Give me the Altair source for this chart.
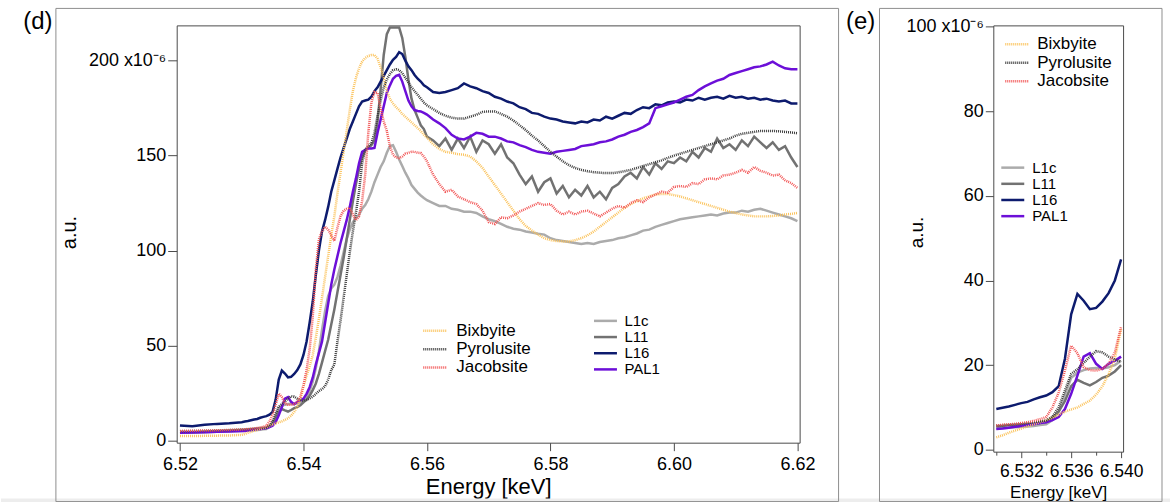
import altair as alt
import pandas as pd

# ---------------- energy grid (keV) ----------------
E_PRE = [6.520, 6.522, 6.524, 6.526, 6.528]
E_EDGE = [round(6.530 + 0.0005 * i, 4) for i in range(61)]   # 6.5300 .. 6.5600
E_POST = [round(6.561 + 0.001 * i, 3) for i in range(60)]    # 6.561 .. 6.620
ENERGY = E_PRE + E_EDGE + E_POST

# ---------------- sample spectra (x1e-6 a.u.) ----------------
L1C = [
    4.2, 4.0, 4.3, 4.6, 4.8,
    5.0, 5.1, 5.2, 5.3, 5.4, 5.5, 5.6, 5.8, 6.0, 7.0,
    9.0, 13.0, 17.0, 18.2, 18.8, 19.2, 19.3, 19.2, 19.5, 20.0,
    21.0, 23.0, 26.0, 31.0, 38.0, 47.0, 58.0, 68.0, 76.0, 80.0,
    82.0, 86.0, 92.0, 99.0, 106.0, 111.0, 115.0, 117.0, 119.0, 122.0,
    124.0, 127.0, 131.0, 136.0, 140.0, 144.0, 147.0, 151.5, 155.0, 155.5,
    152.0, 148.0, 144.5, 141.0, 138.0, 134.5, 132.5, 130.5, 129.0, 127.7,
    126.5,
    125.0, 123.5, 123.5, 122.0, 121.5, 120.5, 120.5, 119.8, 118.0, 116.5,
    115.5, 114.0, 112.5, 111.5, 111.0, 110.0, 109.5, 108.8, 108.4, 106.5,
    105.5, 105.0, 104.5, 104.0, 103.5, 104.0, 103.5, 104.5, 105.0, 105.5,
    106.5, 107.0, 108.0, 109.0, 110.5, 111.0, 112.5, 113.5, 114.5, 115.5,
    116.5, 117.0, 117.5, 118.0, 118.5, 119.0, 118.5, 119.5, 120.0, 120.0,
    121.0, 120.5, 121.5, 122.0, 121.0, 120.0, 119.0, 118.0, 117.0, 115.5,
]
L11 = [
    4.5, 4.4, 4.7, 4.9, 5.2,
    5.5, 5.6, 5.8, 5.9, 6.0, 6.1, 6.1, 6.3, 6.5, 7.5,
    9.0, 11.5, 15.0, 16.5, 15.8, 15.2, 16.0, 17.0, 17.5, 18.5,
    20.0, 21.5, 23.5, 26.5, 30.0, 35.0, 41.0, 47.0, 53.0, 61.0,
    69.0, 78.0, 87.0, 96.0, 106.0, 116.0, 126.0, 135.0, 143.0, 149.0,
    153.0, 154.0, 155.5, 158.0, 168.0, 185.0, 203.0, 214.0, 217.5, 217.5,
    217.5, 217.5, 212.0, 202.0, 190.0, 180.0, 174.0, 170.0, 166.0, 164.0,
    160.0,
    158.0, 155.0, 159.0, 153.0, 159.0, 154.0, 160.0, 152.0, 158.0, 156.0,
    151.0, 156.0, 149.0, 146.0, 140.0, 135.0, 139.0, 131.0, 136.0, 138.0,
    130.0, 134.0, 128.0, 132.0, 129.0, 134.0, 128.0, 131.0, 127.0, 133.0,
    135.0, 139.0, 141.0, 138.0, 144.0, 140.0, 146.0, 143.0, 147.0, 146.0,
    149.0, 147.0, 152.0, 149.0, 154.0, 152.0, 159.0, 154.0, 156.0, 153.0,
    158.0, 155.0, 160.0, 157.0, 154.0, 157.0, 153.0, 155.0, 149.0, 144.0,
]
L16 = [
    7.9, 7.4, 8.2, 8.7, 9.0,
    9.6, 9.9, 10.2, 10.6, 11.0, 11.3, 11.9, 12.4, 12.8, 13.6,
    15.0, 21.5, 32.0, 36.8, 35.2, 33.2, 33.5, 35.0, 37.0, 40.0,
    45.0, 52.0, 62.0, 73.0, 87.0, 100.0, 110.0, 116.0, 123.0, 131.0,
    137.0, 143.0, 149.0, 154.0, 159.0, 164.0, 168.0, 172.0, 176.0, 178.5,
    179.0, 179.5, 181.0, 184.0, 186.0, 189.0, 192.0, 195.0, 198.0, 200.5,
    202.0, 204.5, 203.5, 200.0, 197.0, 195.0, 192.5, 190.5, 189.0, 187.0,
    186.0,
    183.5, 183.0, 183.5, 184.5, 185.5, 188.0, 186.5, 185.5, 184.0, 183.0,
    181.0, 180.0, 178.5, 177.5, 175.5, 174.5, 172.5, 172.0, 170.5, 169.5,
    169.0, 168.0, 167.5, 167.0, 168.0, 167.5, 169.0, 168.5, 170.5, 169.5,
    171.0, 172.5, 172.0, 174.0, 175.5, 175.0, 177.0, 176.5, 178.0, 178.5,
    178.0, 179.5, 179.0, 180.5, 179.5, 180.5, 181.0, 180.0, 181.5, 180.5,
    181.0, 180.0, 180.5, 179.5, 180.0, 179.0, 178.5, 179.0, 177.5, 177.5,
]
PAL1 = [
    4.0, 4.2, 4.3, 4.5, 4.7,
    4.9, 5.0, 5.2, 5.4, 5.6, 5.8, 6.0, 6.3, 6.5, 7.0,
    7.7, 9.6, 13.2, 17.5, 22.0, 22.8, 20.3, 19.1, 20.3, 21.0,
    22.0, 24.5, 28.0, 33.0, 40.0, 46.0, 52.0, 62.0, 72.0, 82.0,
    90.0, 97.0, 104.0, 110.0, 116.0, 123.0, 131.0, 138.0, 146.0, 152.0,
    153.0, 153.7, 153.7, 154.0, 162.0, 169.0, 176.0, 183.0, 187.0, 190.5,
    192.0, 192.6, 189.0, 184.0, 179.0, 176.0, 174.0, 173.5, 173.3, 172.5,
    171.6,
    169.0, 167.0, 164.5, 161.0, 159.0, 158.5, 160.0, 162.0, 161.5, 160.0,
    160.0, 159.0, 157.5, 157.0, 155.5, 154.5, 153.0, 152.0, 151.5, 151.0,
    152.0, 152.5, 153.0, 153.5, 155.0, 155.5, 156.0, 157.0, 157.5, 158.5,
    160.0, 161.0, 162.5, 163.5, 165.0, 167.0, 175.0, 176.0, 177.0, 178.0,
    179.5, 181.0, 182.0, 184.5, 186.5, 188.0, 189.5, 190.5, 192.5, 193.5,
    194.5, 195.5, 196.5, 197.0, 198.0, 199.5, 197.5, 196.0, 195.5, 195.5,
]

# ---------------- reference spectra ----------------
BIXBYITE = [
    2.3, 2.3, 2.4, 2.5, 2.6,
    2.9, 3.4, 4.0, 4.5, 5.0, 5.5, 6.0, 6.5, 6.9, 7.6,
    8.3, 9.0, 9.5, 10.0, 10.8, 11.6, 13.0, 15.0, 17.8, 21.5,
    28.5, 34.0, 39.0, 45.0, 54.0, 64.0, 75.0, 86.0, 97.0, 108.0,
    118.0, 130.0, 141.0, 152.0, 163.0, 174.0, 184.0, 191.0, 196.0, 199.5,
    201.5, 202.5, 203.0, 203.0, 201.0, 196.5, 191.0, 184.0, 180.0, 177.5,
    175.5, 174.0, 172.0, 170.5, 169.0, 167.5, 166.0, 164.5, 163.0, 161.0,
    159.5,
    156.0, 153.5, 152.0, 151.5, 150.8, 150.5, 149.5, 147.0, 143.5, 139.0,
    134.5, 130.0, 125.5, 121.0, 116.5, 113.0, 110.5, 108.4, 106.5, 105.5,
    105.0, 104.8, 104.8, 105.5, 106.5, 108.0, 110.0, 112.5, 115.0, 117.5,
    120.0, 122.5, 124.5, 126.0, 127.5, 128.5, 129.5, 129.8, 129.8, 129.2,
    128.5, 127.5, 126.5, 125.5, 124.5, 123.5, 122.5, 121.5, 120.5, 119.8,
    119.0, 118.5, 118.0, 118.0, 118.0, 118.2, 118.5, 119.0, 119.3, 119.8,
]
PYROLUSITE = [
    4.8, 4.9, 5.0, 5.2, 5.4,
    5.7, 5.8, 5.9, 6.0, 6.1, 6.3, 6.5, 6.7, 6.9, 7.8,
    10.0, 14.0, 17.9, 19.0, 20.5, 22.0, 23.3, 23.0, 22.0, 21.3,
    20.8, 21.3, 22.0, 23.0, 24.5, 26.0, 27.0, 28.5, 32.0, 37.0,
    40.0, 52.0, 63.0, 75.0, 87.0, 99.0, 110.0, 120.0, 131.0, 146.0,
    153.0, 155.0, 156.5, 162.0, 171.0, 179.0, 186.0, 190.0, 193.0, 195.0,
    195.5, 195.0, 193.5, 191.0, 188.5, 186.0, 184.0, 182.0, 180.0, 178.0,
    176.5,
    174.5, 172.5, 171.0, 170.0, 169.5, 169.5, 170.5, 171.5, 173.0, 173.3,
    173.3, 172.0, 170.5, 168.5, 166.0, 163.5, 160.5, 158.0, 155.0, 152.0,
    149.5, 147.0, 145.0, 143.5, 142.5, 141.8, 141.3, 141.0, 140.8, 140.8,
    141.2, 141.8, 142.5, 143.5, 144.5, 145.5, 146.5, 147.5, 148.8, 150.0,
    151.0, 152.0, 153.0, 154.0, 155.0, 156.0, 157.0, 158.0, 159.0, 160.5,
    161.5, 162.0, 162.5, 163.0, 163.0, 163.0, 162.8, 162.5, 162.2, 161.8,
]
JACOBSITE = [
    5.0, 5.1, 5.2, 5.3, 5.5,
    5.7, 5.9, 6.0, 6.1, 6.3, 6.5, 6.8, 7.2, 7.7, 10.0,
    13.5, 18.7, 24.6, 22.8, 19.5, 18.8, 18.7, 19.1, 20.3, 23.0,
    29.0, 37.0, 48.0, 65.0, 90.0, 106.0, 110.0, 112.5, 111.0, 108.0,
    105.0, 112.0, 118.0, 121.0, 122.0, 122.5, 119.0, 116.0, 118.0, 126.0,
    140.0, 162.0, 178.0, 183.5, 183.0, 175.0, 168.0, 163.0, 155.0, 150.5,
    149.0, 148.7, 149.5, 151.0, 151.5, 152.0, 152.0, 151.5, 151.4, 149.5,
    147.0,
    140.0, 135.0, 131.0, 132.0, 128.5, 127.0, 125.5, 124.5, 121.0, 115.0,
    114.0, 117.5, 117.0, 118.5, 120.5, 122.0, 123.5, 125.0, 124.0, 124.5,
    121.0, 119.0, 120.5, 119.0, 120.5, 121.0, 119.5, 118.0, 120.0, 122.0,
    123.5, 122.5, 125.0, 126.5, 125.5, 128.0, 129.5, 131.0, 130.5, 133.5,
    134.0, 133.5, 135.5, 135.0, 137.5, 138.0, 137.5, 139.5, 140.0, 141.0,
    142.5, 141.0, 144.0, 142.0, 141.0, 139.5, 140.0, 137.0, 135.5, 133.0,
]

SAMPLE_NAMES = ["L1c", "L11", "L16", "PAL1"]
SAMPLE_COLORS = ["#ABABAB", "#727272", "#0D1B6E", "#6C0FD8"]
REF_NAMES = ["Bixbyite", "Pyrolusite", "Jacobsite"]
REF_COLORS = ["#FBC35C", "#3B3B3B", "#F25757"]

SAMPLES = {"L1c": L1C, "L11": L11, "L16": L16, "PAL1": PAL1}
REFS = {"Bixbyite": BIXBYITE, "Pyrolusite": PYROLUSITE, "Jacobsite": JACOBSITE}

for _n, _v in list(SAMPLES.items()) + list(REFS.items()):
    assert len(_v) == len(ENERGY), (_n, len(_v), len(ENERGY))

samp_df = pd.DataFrame(
    [{"E": e, "v": v, "name": n} for n, vals in SAMPLES.items() for e, v in zip(ENERGY, vals)]
)
ref_df = pd.DataFrame(
    [{"E": e, "v": v, "name": n} for n, vals in REFS.items() for e, v in zip(ENERGY, vals)]
)
deco_df = pd.DataFrame({"k": [0]})

FONT = "Liberation Sans"
FRAME = "#8E8E8E"
AXC = "#4A4A4A"
LEG_PATH = "M-5.75,0H5.75"


def panel(width, height, xdom, ydom, xaxis, yaxis, ref_leg, samp_leg,
          frame, label_xy, label, extra=None, flt=None):
    xenc = alt.X("E:Q", scale=alt.Scale(domain=xdom, nice=False, zero=False), axis=xaxis)
    yenc = alt.Y("v:Q", scale=alt.Scale(domain=ydom, nice=False, zero=False), axis=yaxis)

    s_base = alt.Chart(samp_df)
    r_base = alt.Chart(ref_df)
    if flt:
        s_base = s_base.transform_filter(flt)
        r_base = r_base.transform_filter(flt)

    samp = s_base.mark_line(strokeWidth=2.5, clip=True).encode(
        x=xenc, y=yenc,
        stroke=alt.Stroke("name:N", scale=alt.Scale(domain=SAMPLE_NAMES, range=SAMPLE_COLORS),
                          legend=samp_leg),
    )
    ref = r_base.mark_line(strokeWidth=2.5, strokeDash=[1, 1], clip=True).encode(
        x=xenc, y=yenc,
        color=alt.Color("name:N", scale=alt.Scale(domain=REF_NAMES, range=REF_COLORS),
                        legend=ref_leg),
    )

    deco = alt.Chart(deco_df)
    fx1, fx2, fy1, fy2 = frame
    frame_mark = deco.mark_rect(fill="white", fillOpacity=0, stroke=FRAME, strokeWidth=1).encode(
        x=alt.value(fx1), x2=alt.value(fx2), y=alt.value(fy1), y2=alt.value(fy2)
    )
    lab = deco.mark_text(text=label, font=FONT, fontSize=24, align="center",
                         baseline="middle", color="black").encode(
        x=alt.value(label_xy[0]), y=alt.value(label_xy[1])
    )
    layers = (extra or []) + [frame_mark, lab, samp, ref]
    return alt.layer(*layers).properties(width=width, height=height)


# ---------------- left panel (d) ----------------
L_W, L_H = 624, 418
left_x_axis = alt.Axis(
    values=[6.52, 6.54, 6.56, 6.58, 6.60, 6.62], format=".2f",
    title="Energy [keV]", titleFont=FONT, titleFontSize=22, titleFontWeight="normal",
    titleColor="black", titleX=312, titleY=44, titleBaseline="middle", titleAlign="center",
    labelFont=FONT, labelFontSize=18, labelColor="black", labelPadding=5,
    labelFlush=False, labelOverlap=False, tickSize=8, tickColor=AXC, tickWidth=1,
    domain=False, grid=False,
)
left_y_axis = alt.Axis(
    values=[0, 50, 100, 150, 200],
    labelExpr="datum.value == 200 ? '200 x10\u207B\u2076' : datum.label",
    title="a.u.", titleFont=FONT, titleFontSize=20, titleFontWeight="normal",
    titleColor="black", titleAngle=-90, titleX=-107, titleY=207,
    titleBaseline="middle", titleAlign="center",
    labelFont=FONT, labelFontSize=18, labelColor="black", labelPadding=2,
    labelOverlap=False, tickSize=9, tickColor=AXC, tickWidth=1, domain=False, grid=False,
)
left_ref_leg = alt.Legend(
    orient="none", legendX=250, legendY=297.5, direction="vertical", title=None,
    padding=0, rowPadding=0.3, labelFont=FONT, labelFontSize=17, labelColor="black",
    labelOffset=13, symbolType=LEG_PATH, symbolSize=16, symbolStrokeWidth=2.5,
    symbolDash=[1, 1],
)
left_samp_leg = alt.Legend(
    orient="none", legendX=422, legendY=288.5, direction="vertical", title=None,
    padding=0, rowPadding=0.2, labelFont=FONT, labelFontSize=15, labelColor="black",
    labelOffset=11.5, symbolType=LEG_PATH, symbolSize=16, symbolStrokeWidth=2.5,
)
deco_l = alt.Chart(deco_df)
page_bounds = deco_l.mark_rect(opacity=0).encode(
    x=alt.value(-176), x2=alt.value(995), y=alt.value(-24), y2=alt.value(478)
)
bottom_band = deco_l.mark_rect(color="#EDEDED").encode(
    x=alt.value(-176), x2=alt.value(995), y=alt.value(474), y2=alt.value(478)
)
left = panel(
    L_W, L_H, [6.51947, 6.62036], [-1.2, 218.6], left_x_axis, left_y_axis,
    left_ref_leg, left_samp_leg, frame=(-121, 663, -17, 477), label_xy=(-139, -3),
    label="(d)", extra=[page_bounds, bottom_band],
)

# ---------------- right panel (e) ----------------
R_W, R_H = 130, 427
right_x_axis = alt.Axis(
    values=[6.530, 6.532, 6.534, 6.536, 6.538, 6.540],
    labelExpr="round(datum.value * 1000) % 4 == 0 ? format(datum.value, '.3f') : ''",
    title="Energy [keV]", titleFont=FONT, titleFontSize=17, titleFontWeight="normal",
    titleColor="black", titleX=65, titleY=41, titleBaseline="middle", titleAlign="center",
    labelFont=FONT, labelFontSize=17.5, labelColor="black", labelPadding=5,
    labelFlush=False, labelOverlap=False,
    tickSize={"condition": {"test": "round(datum.value * 1000) % 4 == 0", "value": 6}, "value": 3.5},
    tickColor=AXC, tickWidth=1, domain=False, grid=False,
)
right_y_axis = alt.Axis(
    values=[0, 20, 40, 60, 80, 100],
    labelExpr="datum.value == 100 ? '100 x10\u207B\u2076' : datum.label",
    title="a.u.", titleFont=FONT, titleFontSize=19, titleFontWeight="normal",
    titleColor="black", titleAngle=-90, titleX=-77, titleY=207,
    titleBaseline="middle", titleAlign="center",
    labelFont=FONT, labelFontSize=18, labelColor="black", labelPadding=2,
    labelOverlap=False, tickSize=8, tickColor=AXC, tickWidth=1, domain=False, grid=False,
)
right_ref_leg = alt.Legend(
    orient="none", legendX=15, legendY=10.5, direction="vertical", title=None,
    padding=0, rowPadding=0.5, labelFont=FONT, labelFontSize=17, labelColor="black",
    labelOffset=12, symbolType=LEG_PATH, symbolSize=16, symbolStrokeWidth=2.5,
    symbolDash=[1, 1],
)
right_samp_leg = alt.Legend(
    orient="none", legendX=12, legendY=135, direction="vertical", title=None,
    padding=0, rowPadding=0.2, labelFont=FONT, labelFontSize=15, labelColor="black",
    labelOffset=12, symbolType=LEG_PATH, symbolSize=16, symbolStrokeWidth=2.5,
)
right = panel(
    R_W, R_H, [6.52976, 6.54016], [-0.47, 100.3], right_x_axis, right_y_axis,
    right_ref_leg, right_samp_leg, frame=(-114, 169, -17, 477), label_xy=(-133, -3),
    label="(e)", flt="datum.E >= 6.5299 && datum.E <= 6.5401",
)

chart = (
    alt.hconcat(left, right, spacing=194, bounds="flush")
    .resolve_scale(color="independent", stroke="independent")
    .resolve_legend(color="independent", stroke="independent")
    .properties(padding=0, background="white")
    .configure_view(stroke=AXC, strokeWidth=1)
)

chart.save("out.html", embed_options={"renderer": "svg", "actions": False})
